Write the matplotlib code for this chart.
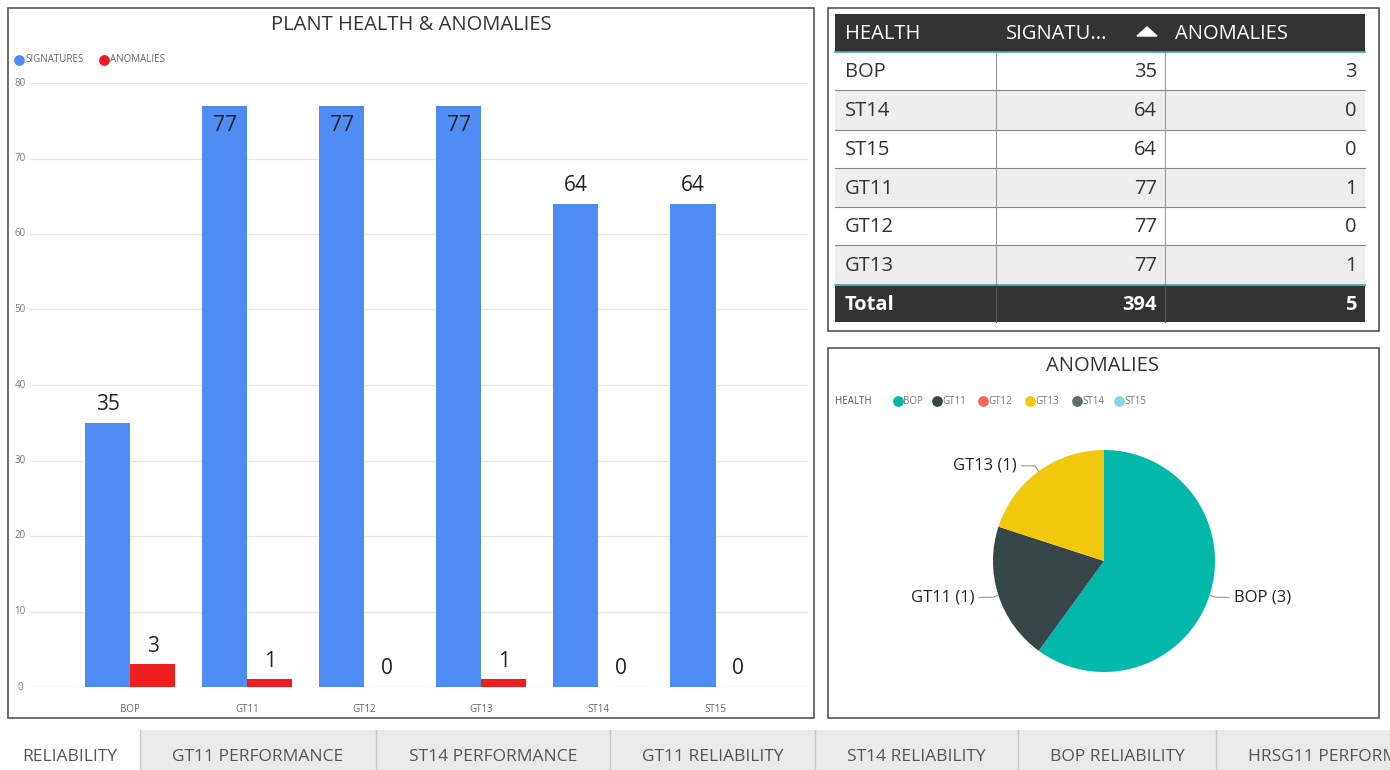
import matplotlib
matplotlib.use("Agg")
import matplotlib.pyplot as plt
from matplotlib.patches import Rectangle
import numpy as np

W, H = 1390, 770

# data
categories = ["BOP", "GT11", "GT12", "GT13", "ST14", "ST15"]
signatures = [35, 77, 77, 77, 64, 64]
anomalies = [3, 1, 0, 1, 0, 0]

table_rows = ["BOP", "ST14", "ST15", "GT11", "GT12", "GT13"]
table_sig = [35, 64, 64, 77, 77, 77]
table_anom = [3, 0, 0, 1, 0, 1]

pie_labels = ["BOP", "GT11", "GT13"]
pie_values = [3, 1, 1]
legend_names = ["BOP", "GT11", "GT12", "GT13", "ST14", "ST15"]
legend_colors = ["#01B8AA", "#374649", "#FD625E", "#F2C80F", "#5F6B6D", "#8AD4EB"]

tabs = ["RELIABILITY", "GT11 PERFORMANCE", "ST14 PERFORMANCE", "GT11 RELIABILITY",
        "ST14 RELIABILITY", "BOP RELIABILITY", "HRSG11 PERFORMANCE"]
tab_edges = [0, 140, 376, 610, 815, 1018, 1216, 1420]

BLUE = "#4F8CF3"
RED = "#EE1D1F"
FONT = "Open Sans"
plt.rcParams["font.family"] = [FONT, "DejaVu Sans"]


def box(x0, y0, x1, y1):
    return [x0 / W, 1 - y1 / H, (x1 - x0) / W, (y1 - y0) / H]


fig = plt.figure(figsize=(W / 100, H / 100), dpi=100)
fig.patch.set_facecolor("white")

# background overlay axes in pixel coordinates
bg = fig.add_axes([0, 0, 1, 1])
bg.set_xlim(0, W)
bg.set_ylim(H, 0)
bg.axis("off")
for (x0, y0, x1, y1) in [(8, 8, 814, 718), (828, 8, 1379, 331), (828, 348, 1379, 718)]:
    bg.add_patch(Rectangle((x0, y0), x1 - x0, y1 - y0, fill=False, ec="#555555", lw=1.2))

# tabs
bg.add_patch(Rectangle((0, 730), W, 40, fc="#EAEAEA", ec="none"))
for i, t in enumerate(tabs):
    x0, x1 = tab_edges[i], tab_edges[i + 1]
    if i == 0:
        bg.add_patch(Rectangle((x0, 730), x1 - x0, 40, fc="white", ec="none"))
    else:
        bg.plot([x0, x0], [730, 770], color="#C8C8C8", lw=1)
    if i < len(tabs) - 1:
        bg.text((x0 + x1) / 2, 757, t, ha="center", va="center", fontsize=12.5, color="#555555")
    else:
        # last tab runs past the right edge of the page
        bg.text(x0 + 32, 757, t, ha="left", va="center", fontsize=12.5, color="#555555", clip_on=True)

# bar chart
ax = fig.add_axes(box(30, 83, 808, 687))
x = np.arange(len(categories))
bw = 0.385
ax.bar(x - bw / 2, signatures, bw, color=BLUE)
ax.bar(x + bw / 2, anomalies, bw, color=RED)
ax.set_xlim(-0.855, 5.79)
ax.set_ylim(0, 80)
ax.set_yticks(range(0, 81, 10))
ax.yaxis.grid(True, color="#E6E6E6", lw=1)
ax.set_axisbelow(True)
for s in ax.spines.values():
    s.set_visible(False)
ax.tick_params(length=0)
ax.set_yticklabels([])
for v in range(0, 81, 10):
    bg.text(20, 687 - v * 7.55, str(v), ha="center", va="center", fontsize=7, color="#777777")
ax.set_xticks(x)
ax.set_xticklabels(categories, fontsize=7, color="#666666")
ax.tick_params(axis="x", pad=12)
for xi, s, a in zip(x, signatures, anomalies):
    if s > 70:
        ax.text(xi - bw / 2, s - 1.2, str(s), ha="center", va="top", fontsize=15, color="#222222")
    else:
        ax.text(xi - bw / 2, s + 1.0, str(s), ha="center", va="bottom", fontsize=15, color="#222222")
    ax.text(xi + bw / 2, a + 1.0, str(a), ha="center", va="bottom", fontsize=15, color="#222222")

bg.text(411, 25, "PLANT HEALTH & ANOMALIES", ha="center", va="center", fontsize=14.5, color="#333333")
bg.scatter([19], [60], s=45, color=BLUE)
bg.text(25, 60, "SIGNATURES", va="center", fontsize=7, color="#666666")
bg.scatter([104], [60], s=45, color=RED)
bg.text(110, 60, "ANOMALIES", va="center", fontsize=7, color="#666666")

# table
cols = [835, 996, 1165, 1365]
row_y = [14, 52, 90, 130, 168, 207, 245, 285, 322]
bg.add_patch(Rectangle((cols[0], row_y[0]), cols[-1] - cols[0], row_y[1] - row_y[0], fc="#333333", ec="none"))
for j, h in enumerate(["HEALTH", "SIGNATU...", "ANOMALIES"]):
    bg.text(cols[j] + 10, 34, h, va="center", fontsize=14.5, color="white")
bg.fill([1137, 1147, 1157], [36, 27, 36], color="white")
bg.plot([cols[0], cols[-1]], [row_y[1], row_y[1]], color="#3BAFA5", lw=1.2)
for i, name in enumerate(table_rows):
    y0, y1 = row_y[i + 1], row_y[i + 2]
    fc = "white" if i % 2 == 0 else "#EEEEEE"
    bg.add_patch(Rectangle((cols[0], y0), cols[-1] - cols[0], y1 - y0, fc=fc, ec="none"))
    yc = (y0 + y1) / 2 + 1
    bg.text(cols[0] + 10, yc, name, va="center", fontsize=14.5, color="#333333")
    bg.text(cols[2] - 8, yc, str(table_sig[i]), ha="right", va="center", fontsize=14.5, color="#333333")
    bg.text(cols[3] - 8, yc, str(table_anom[i]), ha="right", va="center", fontsize=14.5, color="#333333")
    bg.plot([cols[0], cols[-1]], [y1, y1], color="#888888", lw=0.8)
for c in cols[1:3]:
    bg.plot([c, c], [row_y[1], row_y[-2]], color="#999999", lw=0.8)
y0, y1 = row_y[-2], row_y[-1]
bg.add_patch(Rectangle((cols[0], y0), cols[-1] - cols[0], y1 - y0, fc="#333333", ec="none"))
bg.plot([cols[0], cols[-1]], [y0, y0], color="#3BAFA5", lw=1.2)
for c in cols[1:3]:
    bg.plot([c, c], [y0, y1], color="#555555", lw=0.8)
yc = (y0 + y1) / 2 + 1
bg.text(cols[0] + 10, yc, "Total", va="center", fontsize=14.5, color="white", fontweight="bold")
bg.text(cols[2] - 8, yc, str(sum(table_sig)), ha="right", va="center", fontsize=14.5, color="white", fontweight="bold")
bg.text(cols[3] - 8, yc, str(sum(table_anom)), ha="right", va="center", fontsize=14.5, color="white", fontweight="bold")

# pie
bg.text(1103, 366, "ANOMALIES", ha="center", va="center", fontsize=14.5, color="#333333")
bg.text(835, 401, "HEALTH", va="center", fontsize=7, color="#555555")
lx = [898, 937, 983, 1030, 1077, 1119]
for xx, n, c in zip(lx, legend_names, legend_colors):
    bg.scatter([xx], [401], s=45, color=c)
    bg.text(xx + 5, 401, n, va="center", fontsize=7, color="#777777")

cx, cy, r = 1104, 561, 111
pax = fig.add_axes(box(cx - r, cy - r, cx + r, cy + r))
pie_cols = [legend_colors[legend_names.index(n)] for n in pie_labels]
wedges, _ = pax.pie(pie_values, colors=pie_cols, startangle=90, counterclock=False,
                    wedgeprops=dict(lw=0))
pax.set_xlim(-1, 1)
pax.set_ylim(-1, 1)
pax.set_aspect("equal")
for wdg, n, v in zip(wedges, pie_labels, pie_values):
    ang = np.deg2rad((wdg.theta1 + wdg.theta2) / 2)
    px, py = np.cos(ang), np.sin(ang)
    side = 1 if px > 0 else -1
    ex, ey = 1.06 * px, 1.06 * py
    tx = ex + side * 0.12
    pax.plot([1.0 * px, ex, tx], [1.0 * py, ey, ey], color="#999999", lw=0.8, clip_on=False)
    pax.text(tx + side * 0.04, ey, f"{n} ({v})", ha="left" if side > 0 else "right",
             va="center", fontsize=12, color="#222222")

fig.savefig("out.png", dpi=100)
